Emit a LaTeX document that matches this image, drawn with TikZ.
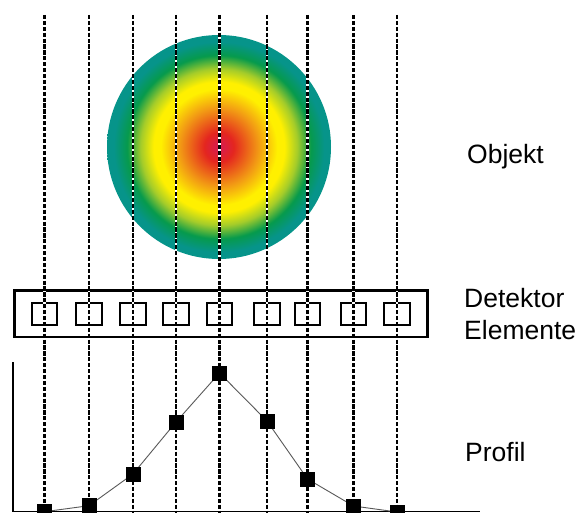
\documentclass[tikz,border=0pt]{standalone}
\usepackage{fontspec}
\setmainfont{Liberation Sans}
\definecolor{objcrim}{HTML}{D81E48}
\definecolor{objred}{HTML}{E4261F}
\definecolor{objorange}{HTML}{F29A14}
\definecolor{objyellow}{HTML}{FFF000}
\definecolor{objlime}{HTML}{A4CC2A}
\definecolor{objgreen}{HTML}{069A4C}
\definecolor{objteal}{HTML}{06948A}
\pgfdeclareradialshading{objshade}{\pgfpoint{0bp}{0bp}}{%
  color(0bp)=(objcrim); color(0.8bp)=(objcrim); color(3.3bp)=(objred);
  color(8.8bp)=(objorange); color(13bp)=(objyellow); color(14.6bp)=(objyellow);
  color(17.5bp)=(objlime); color(20.5bp)=(objgreen); color(23.5bp)=(objteal);
  color(25bp)=(objteal); color(50bp)=(objteal)}
\tikzset{
  label text/.style={font=\fontsize{26.5}{30}\selectfont, anchor=base west, inner sep=0pt},
  cell/.style={draw=black, line width=2.4pt, minimum width=25.5pt, minimum height=22pt, inner sep=0pt},
  marker/.style={fill=black, minimum size=15pt, inner sep=0pt},
  ray under/.style={white, line width=2.9pt},
  ray/.style={black, line width=2.7pt, dash pattern=on 4.2pt off 1.7pt},
}
\begin{document}
\begin{tikzpicture}[x=1pt, y=-1pt]
\useasboundingbox[fill=white] (0,0) rectangle (583,513);

% object with radial colour distribution
\node[circle, minimum size=224pt, inner sep=0pt, shade, shading=objshade] (obj) at (219,147) {};

% detector array
\node[draw=black, line width=2.7pt, minimum width=413pt, minimum height=46.5pt, inner sep=0pt] (det) at (221.3,313.8) {};
\foreach \i/\x in {1/44.5,2/89,3/133,4/176,5/219.5,6/267,7/307.5,8/353.5,9/397} {
  \node[cell] (d\i) at (\x,313.7) {};
}

% profile axes
\coordinate (ax0) at (13,511.5);
\coordinate (axtop) at (13,362);
\coordinate (axend) at (480,511.5);
\draw[line width=1.7pt] (axtop) -- (ax0) -- (axend);

% profile samples
\foreach \i/\x/\y in {1/44.5/511.7,2/89/505.7,3/133/474,4/176/422,5/219.5/373,6/267/421,7/307.5/479,8/353.5/506,9/397/512} {
  \coordinate (p\i) at (\x,\y);
  \coordinate (top\i) at (\x,15);
  \coordinate (bot\i) at (\x,513);
}
\draw[gray!70!black, line width=0.9pt] (p1) -- (p2) -- (p3) -- (p4) -- (p5) -- (p6) -- (p7) -- (p8) -- (p9);

% projection rays
\foreach \i in {1,...,9} {
  \draw[ray under] (top\i) -- (bot\i);
  \draw[ray] (top\i) -- (bot\i);
}
\foreach \i in {1,...,9} {
  \node[marker] (m\i) at (p\i) {};
}

% labels
\node[label text] (lobj) at (467,164) {Objekt};
\node[label text] (ldet1) at (464,307) {Detektor};
\node[label text] (ldet2) at (464,339) {Elemente};
\node[label text] (lprof) at (465,461) {Profil};
\end{tikzpicture}
\end{document}
